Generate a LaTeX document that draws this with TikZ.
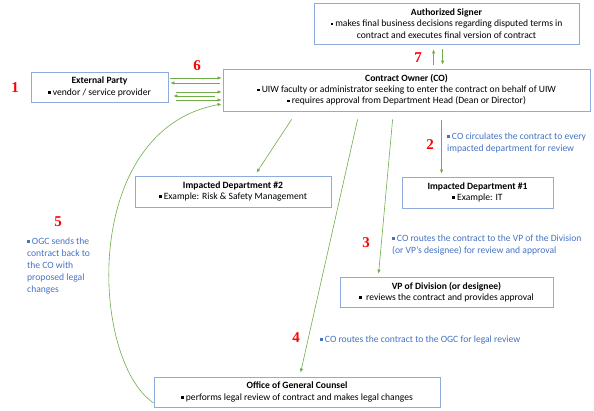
\documentclass[tikz,border=0pt]{standalone}
\usepackage{fontspec}
\setmainfont{Carlito}
\newfontfamily\numfont{Liberation Serif}
\usetikzlibrary{arrows.meta}
\definecolor{boxblue}{HTML}{8FAADC}
\definecolor{arrgreen}{HTML}{70AD47}
\definecolor{noteblue}{HTML}{4472C4}
\newcommand{\blt}{\raisebox{1.6pt}{\rule{2.6pt}{2.6pt}}\ }

\begin{document}
\begin{tikzpicture}[x=1pt,y=-1pt,
    box/.style={draw=boxblue, line width=0.8pt, inner sep=0pt, align=center, font=\fontsize{9.6}{11.2}\selectfont},
    num/.style={text=red, inner sep=0pt, font=\numfont\bfseries\fontsize{15}{15}\selectfont},
    note/.style={text=noteblue, anchor=west, align=left, inner sep=0pt, font=\fontsize{9.6}{12.2}\selectfont},
    arr/.style={draw=arrgreen, line width=0.6pt, -{Latex[length=4pt,width=3.5pt]}}]
    \useasboundingbox (0,0) rectangle (594,411);
    % boxes
    \node[box, minimum width=265pt, minimum height=41pt] (auth) at (446.5,23.5) {\textbf{Authorized Signer}\\\blt makes final business decisions regarding disputed terms in\\contract and executes final version of contract};
    \node[box, minimum width=137pt, minimum height=30pt] (ext) at (99.5,87) {\textbf{External Party}\\\blt vendor / service provider};
    \node[box, minimum width=367pt, minimum height=42pt] (co) at (406.5,90) {\textbf{Contract Owner (CO)}\\\blt UIW faculty or administrator seeking to enter the contract on behalf of UIW\\\blt requires approval from Department Head (Dean or Director)};
    \node[box, minimum width=196pt, minimum height=31pt] (dtwo) at (233,191.5) {\textbf{Impacted Department \#2}\\\blt Example: Risk \& Safety Management};
    \node[box, minimum width=151pt, minimum height=31pt] (done) at (477.5,192.5) {\textbf{Impacted Department \#1}\\\blt Example: IT};
    \node[box, minimum width=213pt, minimum height=30pt] (vp) at (446.5,292) {\textbf{VP of Division (or designee)}\\\blt\ reviews the contract and provides approval};
    \node[box, minimum width=286pt, minimum height=30pt] (ogc) at (297,392) {\textbf{Office of General Counsel}\\\blt performs legal review of contract and makes legal changes};

    % step numbers
    \node[num] (n1) at (15,88) {1};
    \node[num] (n2) at (430,145) {2};
    \node[num] (n3) at (366,243) {3};
    \node[num] (n4) at (296,338) {4};
    \node[num] (n5) at (58,222) {5};
    \node[num] (n6) at (197,66) {6};
    \node[num] (n7) at (418,58) {7};

    % notes
    \node[note] (t2) at (447,143) {\blt CO circulates the contract to every\\impacted department for review};
    \node[note] (t3) at (392,245) {\blt CO routes the contract to the VP of the Division\\(or VP’s designee) for review and approval};
    \node[note] (t4) at (320,340) {\blt CO routes the contract to the OGC for legal review};
    \node[note] (t5) at (27,266) {\blt OGC sends the\\contract back to\\the CO with\\proposed legal\\changes};

    % arrows
    \draw[arr] ([xshift=2pt,yshift=9pt]ext.east) -- ([xshift=-1pt,yshift=12pt]co.west);
    \draw[arr] ([xshift=-3pt,yshift=7pt]co.west) -- ([xshift=2pt,yshift=4pt]ext.east);
    \draw[arr] ([xshift=8pt,yshift=-5pt]ext.east) -- ([xshift=-1pt,yshift=-2pt]co.west);
    \draw[arr] ([xshift=-8pt,yshift=-6pt]co.west) -- ([xshift=5pt,yshift=-9pt]ext.east);
    \draw[arr] ([xshift=8pt,yshift=-13pt]ext.east) -- ([xshift=-1pt,yshift=-10pt]co.west);
    \draw[arr] ([xshift=211pt,yshift=4pt]co.north west) -- ([xshift=120pt,yshift=-5pt]auth.south west);
    \draw[arr] ([xshift=129pt,yshift=-5pt]auth.south west) -- ([xshift=220pt,yshift=4pt]co.north west);
    \draw[arr] ([xshift=219pt,yshift=-9pt]co.south west) -- ([xshift=40pt,yshift=3pt]done.north west);
    \draw[arr] ([xshift=69pt,yshift=-8pt]co.south west) -- ([xshift=122pt,yshift=3pt]dtwo.north west);
    \draw[arr] ([xshift=170pt,yshift=-8pt]co.south west) -- ([xshift=39pt,yshift=3pt]vp.north west);
    \draw[arr] ([xshift=135pt,yshift=-8pt]co.south west) -- ([xshift=147pt,yshift=4pt]ogc.north west);
    \draw[arr] ([yshift=-11pt]ogc.west) .. controls (90,360) and (80,130) .. ([xshift=-1pt,yshift=-14pt]co.west);
\end{tikzpicture}
\end{document}
